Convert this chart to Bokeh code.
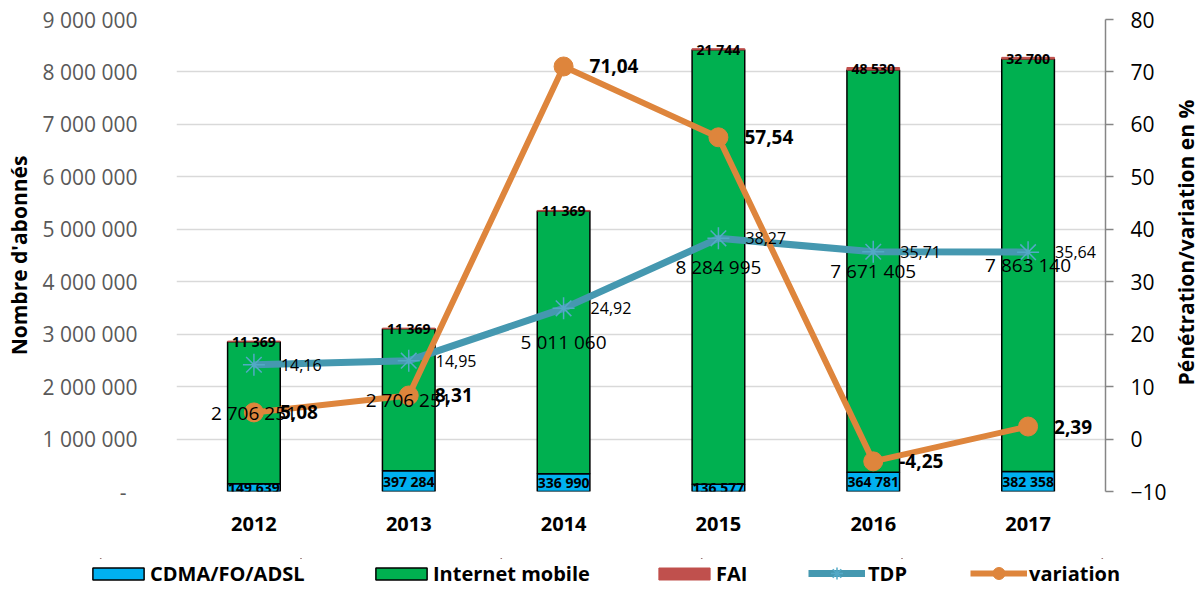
import math
from bokeh.plotting import figure
from bokeh.layouts import row
from bokeh.models import (ColumnDataSource, LinearAxis, Range1d, FixedTicker,
                          CustomJSTickFormatter, LabelSet, Label, Legend, LegendItem)
from bokeh.core.properties import value
from bokeh.embed import file_html
from bokeh.resources import INLINE

# ---------------- data ----------------
years = ["2012", "2013", "2014", "2015", "2016", "2017"]
cdma = [149639, 397284, 336990, 136577, 364781, 382358]
mobile = [2706251, 2706251, 5011060, 8284995, 7671405, 7863140]
fai = [11369, 11369, 11369, 21744, 48530, 32700]
tdp = [14.16, 14.95, 24.92, 38.27, 35.71, 35.64]
variation = [5.08, 8.31, 71.04, 57.54, -4.25, 2.39]
left_ticks = [0, 1000000, 2000000, 3000000, 4000000, 5000000, 6000000, 7000000, 8000000, 9000000]
right_ticks = [-10, 0, 10, 20, 30, 40, 50, 60, 70, 80]
series_names = ["CDMA/FO/ADSL", "Internet mobile", "FAI", "TDP", "variation"]
right_title = "Pénétration/variation en %"

FONT = "Open Sans"
C_CDMA = "#00B0F0"
C_MOB = "#00B050"
C_FAI = "#C0504D"
C_TDP = "#4598B0"
C_TDP_M = "#53A9C6"
C_VAR = "#DE853C"


def sp(n):
    return f"{n:,}".replace(",", " ")


def dec(v):
    return f"{v:.2f}".replace(".", ",")


c_top = cdma
m_top = [a + b for a, b in zip(cdma, mobile)]
f_top = [a + b for a, b in zip(m_top, fai)]

src = ColumnDataSource(dict(
    year=years,
    zero=[0] * len(years),
    c_top=c_top, m_top=m_top, f_top=f_top,
    c_mid=[t / 2 for t in c_top],
    m_mid=[(a + b) / 2 for a, b in zip(c_top, m_top)],
    f_mid=[(a + b) / 2 for a, b in zip(m_top, f_top)],
    c_lbl=[sp(v) for v in cdma],
    m_lbl=[sp(v) for v in mobile],
    f_lbl=[sp(v) for v in fai],
    tdp=tdp, var=variation,
    t_lbl=[dec(v) for v in tdp],
    v_lbl=[dec(v) for v in variation],
))

W = 1202
W_MAIN = 1169
W_SIDE = W - W_MAIN
H1, H2 = 558, 30
TOP, LEFT = 19, 176
BOTTOM = H1 - 491
RIGHT = W_MAIN - 1107
p = figure(x_range=years, y_range=Range1d(0, 9000000), width=W_MAIN, height=H1,
           output_backend="svg", toolbar_location=None,
           min_border_left=LEFT, min_border_right=RIGHT, min_border_top=TOP,
           min_border_bottom=BOTTOM)
p.extra_y_ranges = {"pct": Range1d(-10, 80)}
p.outline_line_color = None
p.background_fill_color = "white"
p.border_fill_color = "white"

p.xgrid.grid_line_color = None
p.ygrid.grid_line_color = "#D9D9D9"
p.ygrid.grid_line_width = 1.5
p.ygrid.ticker = FixedTicker(ticks=left_ticks)

# left axis
ly = p.yaxis[0]
ly.ticker = FixedTicker(ticks=left_ticks)
ly.formatter = CustomJSTickFormatter(code="""
if (tick == 0) { return '-\u00a0\u00a0'; }
return tick.toFixed(0).replace(/\\B(?=(\\d{3})+(?!\\d))/g, ' ');
""")
ly.axis_line_color = None
ly.major_tick_line_color = None
ly.minor_tick_line_color = None
ly.major_tick_out = 0
ly.major_label_standoff = 39
ly.major_label_text_font = FONT
ly.major_label_text_font_size = "21px"
ly.major_label_text_color = "#595959"
ly.axis_label = "Nombre d'abonnés"
ly.axis_label_text_font = FONT
ly.axis_label_text_font_size = "21px"
ly.axis_label_text_font_style = "bold"
ly.axis_label_text_color = "black"
ly.axis_label_standoff = 7

# right axis
ry = LinearAxis(y_range_name="pct", ticker=FixedTicker(ticks=right_ticks))
ry.axis_line_color = "#868686"
ry.axis_line_width = 1.5
ry.major_tick_line_color = "#868686"
ry.major_tick_line_width = 1.5
ry.major_tick_out = 8
ry.major_tick_in = 0
ry.minor_tick_line_color = None
ry.major_label_standoff = 17
ry.major_label_text_font = FONT
ry.major_label_text_font_size = "21px"
ry.major_label_text_color = "black"
p.add_layout(ry, "right")

# x axis
xa = p.xaxis[0]
xa.axis_line_color = None
xa.major_tick_line_color = None
xa.minor_tick_line_color = None
xa.major_tick_out = 0
xa.major_label_standoff = 25
xa.major_label_text_font = FONT
xa.major_label_text_font_size = "20px"
xa.major_label_text_font_style = "bold"
xa.major_label_text_color = "black"

# bars
BW = 0.34
bar_styles = [
    dict(fill_color=C_CDMA, line_color="black", line_width=1.5),
    dict(fill_color=C_MOB, line_color="black", line_width=1.5),
    dict(fill_color=C_FAI, line_color=C_FAI, line_width=1),
]
p.vbar(x="year", bottom="zero", top="c_top", width=BW, source=src, **bar_styles[0])
p.vbar(x="year", bottom="c_top", top="m_top", width=BW, source=src, **bar_styles[1])
p.vbar(x="year", bottom="m_top", top="f_top", width=BW, source=src, **bar_styles[2])

# lines
tdp_line = dict(line_color=C_TDP, line_width=7)
tdp_mark = dict(marker="asterisk", line_color=C_TDP_M, line_width=1.5)
var_line = dict(line_color=C_VAR, line_width=6)
var_mark = dict(marker="circle", fill_color=C_VAR, line_color=C_VAR)
p.line(x="year", y="tdp", source=src, y_range_name="pct", **tdp_line)
p.scatter(x="year", y="tdp", source=src, y_range_name="pct", size=22, **tdp_mark)
p.line(x="year", y="var", source=src, y_range_name="pct", **var_line)
p.scatter(x="year", y="var", source=src, y_range_name="pct", size=19, **var_mark)

# labels
F = value(FONT)
p.add_layout(LabelSet(x="year", y="m_mid", text="m_lbl", source=src,
                      text_align="center", text_baseline="middle",
                      text_font=F, text_font_size="19px", text_color="black"))
p.add_layout(LabelSet(x="year", y="c_mid", text="c_lbl", source=src,
                      text_align="center", text_baseline="middle",
                      text_font=F, text_font_size="14px", text_font_style="bold",
                      text_color="black"))
p.add_layout(LabelSet(x="year", y="f_mid", text="f_lbl", source=src,
                      text_align="center", text_baseline="middle",
                      text_font=F, text_font_size="14px", text_font_style="bold",
                      text_color="black"))
p.add_layout(LabelSet(x="year", y="tdp", text="t_lbl", source=src, y_range_name="pct",
                      x_offset=27, text_align="left", text_baseline="middle",
                      text_font=F, text_font_size="16px", text_color="black"))
p.add_layout(LabelSet(x="year", y="var", text="v_lbl", source=src, y_range_name="pct",
                      x_offset=26, text_align="left", text_baseline="middle",
                      text_font=F, text_font_size="19px", text_font_style="bold",
                      text_color="black"))

# ---------------- right-hand title strip (text reads bottom-to-top) ----------------
side = figure(width=W_SIDE, height=H1, x_range=Range1d(0, 1), y_range=Range1d(0, 1),
              output_backend="svg", toolbar_location=None,
              min_border_left=0, min_border_right=0, min_border_top=TOP,
              min_border_bottom=BOTTOM)
side.axis.visible = False
side.grid.visible = False
side.outline_line_color = None
side.background_fill_color = "white"
side.border_fill_color = "white"
frame_h = H1 - TOP - BOTTOM
side.add_layout(Label(x=W_SIDE / 2, y=frame_h / 2 + 13, x_units="screen", y_units="screen",
                      text=right_title, angle=math.pi / 2,
                      text_align="center", text_baseline="middle",
                      text_font=FONT, text_font_size="21px", text_font_style="bold",
                      text_color="black"))

# ---------------- legend strip: same series, kept out of this strip's view ----------------
lp = figure(width=W, height=H2, x_range=years, y_range=Range1d(-2.0e7, -1.9e7),
            output_backend="svg", toolbar_location=None,
            min_border_left=0, min_border_right=0, min_border_top=0, min_border_bottom=0)
lp.axis.visible = False
lp.grid.visible = False
lp.outline_line_color = None
lp.background_fill_color = "white"
lp.border_fill_color = "white"
g_cdma = lp.vbar(x="year", bottom="zero", top="c_top", width=0, source=src, **bar_styles[0])
g_mob = lp.vbar(x="year", bottom="c_top", top="m_top", width=0, source=src, **bar_styles[1])
g_fai = lp.vbar(x="year", bottom="m_top", top="f_top", width=0, source=src, **bar_styles[2])
g_tdp_l = lp.line(x="year", y="tdp", source=src, **tdp_line)
g_tdp_m = lp.scatter(x="year", y="tdp", source=src, size=22, **tdp_mark)
g_var_l = lp.line(x="year", y="var", source=src, **var_line)
g_var_m = lp.scatter(x="year", y="var", source=src, size=19, **var_mark)

entries = [
    (series_names[0], [g_cdma], 86, 64, 15, 0, 1),
    (series_names[1], [g_mob], 369, 64, 15, 0, 1),
    (series_names[2], [g_fai], 652, 64, 15, 0, 1),
    (series_names[3], [g_tdp_l, g_tdp_m], 808, 57, 30, 3, 0),
    (series_names[4], [g_var_l, g_var_m], 970, 57, 30, 2, 0),
]
for label, rends, x0, gw, gh, so, y0 in entries:
    lg = Legend(items=[LegendItem(label=label, renderers=rends, index=0)],
                location=(x0, y0),
                orientation="horizontal",
                glyph_width=gw, glyph_height=gh, label_standoff=so,
                padding=0, margin=0, spacing=0,
                border_line_color=None, background_fill_alpha=0,
                label_text_font=FONT, label_text_font_size="20px",
                label_text_font_style="bold", label_text_color="black")
    lp.add_layout(lg, "center")

top_row = row(p, side, spacing=0)
open("out.html", "w").write(file_html([top_row, lp], INLINE))
